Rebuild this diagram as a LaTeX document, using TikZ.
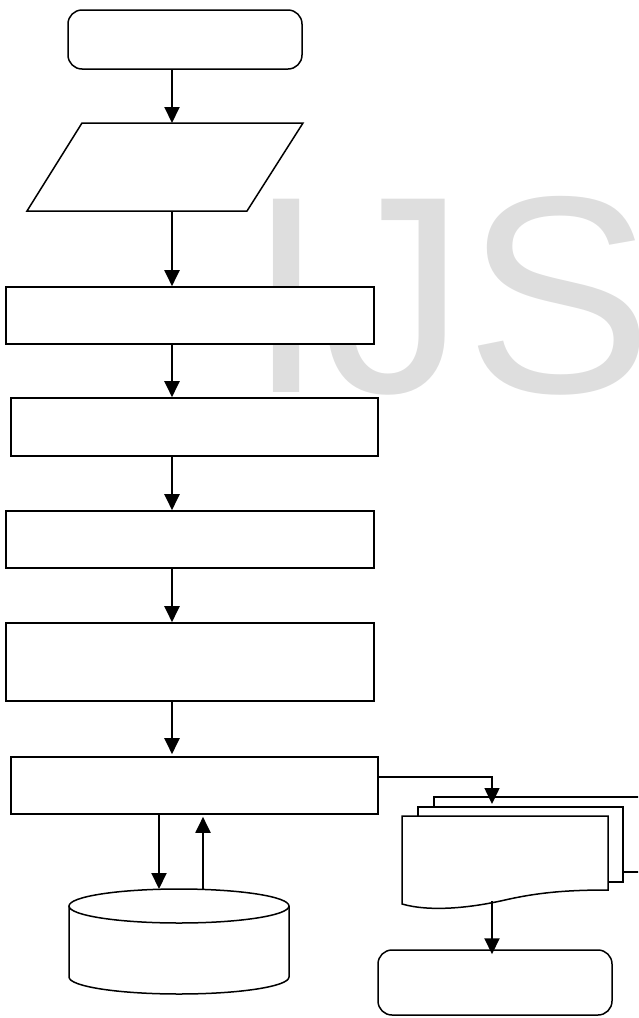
\documentclass[tikz,border=0pt]{standalone}
\usepackage{fontspec}
\newfontfamily\wmfont{Liberation Sans}
\usetikzlibrary{arrows.meta}
\definecolor{wmgray}{RGB}{222,222,222}
\begin{document}
\begin{tikzpicture}[x=1pt,y=-1pt,
  box/.style={draw, line width=1.6pt, rectangle, inner sep=0pt, fill=white},
  term/.style={draw, line width=1.5pt, rectangle, rounded corners=14pt, inner sep=0pt, fill=white},
  shp/.style={draw, line width=1.5pt, fill=white},
  arr/.style={line width=2pt, -{Triangle[width=15pt 0 0,length=16pt 0 0]}},
  link/.style={line width=1.5pt, -{Triangle[width=15pt 0 0,length=16pt 0 0]}},
  wm/.style={text=wmgray, inner sep=0pt, font=\wmfont\fontsize{281}{281}\selectfont}]
\useasboundingbox (0,0) rectangle (638,1018);
\clip (0,0) rectangle (638,1018);
% watermark
\node[wm, anchor=base west] (wm) at (247,392) {IJS};
% terminal
\node[term, minimum width=234pt, minimum height=59pt] (t1) at (185,39.5) {};
% parallelogram
\draw[shp] (82,123) -- (303,123) -- (247,211) -- (27,211) -- cycle;
\coordinate (ptop) at (172,123);
\coordinate (pbot) at (172,211);
\coordinate (ax) at (172,0);
% process boxes
\node[box, minimum width=368pt, minimum height=57pt] (b1) at (190,315.5) {};
\node[box, minimum width=367pt, minimum height=58pt] (b2) at (194.5,427) {};
\node[box, minimum width=368pt, minimum height=57pt] (b3) at (190,539.5) {};
\node[box, minimum width=368pt, minimum height=78pt] (b4) at (190,662) {};
\node[box, minimum width=367pt, minimum height=57pt] (b5) at (194.5,785.5) {};
% cylinder
\draw[shp] (69,906) -- (69,977) arc[start angle=180, end angle=360, x radius=110, y radius=-17] -- (289,906);
\draw[shp] (179,906) ellipse[x radius=110, y radius=17];
\coordinate (c1) at (159,889);
\coordinate (c2) at (203,890);
% multi document
\draw[shp] (434,797) rectangle (660,872);
\draw[shp] (418,807) rectangle (623,882);
\draw[shp] (402,816) -- (608,816) -- (608,890)
  .. controls (570,890) and (540,892) .. (505,900)
  .. controls (470,908) and (430,912) .. (402,904) -- cycle;
\coordinate (dtop) at (492,804);
\coordinate (dbot) at (492,901);
% bottom terminal
\node[term, minimum width=234pt, minimum height=65pt] (t2) at (495,982.5) {};
% connectors
\draw[arr] (t1.south -| ax) -- (ptop);
\draw[arr] (pbot) -- (b1.north -| ax);
\draw[arr] (b1.south -| ax) -- (b2.north -| ax);
\draw[arr] (b2.south -| ax) -- (b3.north -| ax);
\draw[arr] (b3.south -| ax) -- (b4.north -| ax);
\draw[arr] (b4.south -| ax) -- ([yshift=2pt]b5.north -| ax);
\draw[arr] (b5.south -| c1) -- (c1);
\draw[arr] (c2) -- ([yshift=-2pt]b5.south -| c2);
\draw[link] ([yshift=8.5pt]b5.east) -| (dtop);
\draw[arr] (dbot) -- ([yshift=-5pt]t2.north -| dbot);
\end{tikzpicture}
\end{document}
